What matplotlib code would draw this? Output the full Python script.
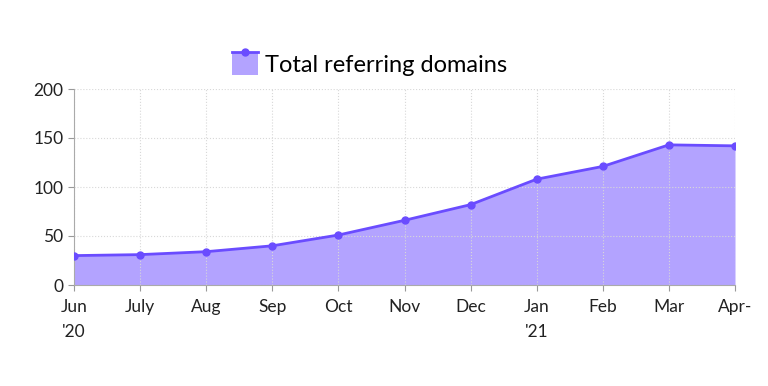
import matplotlib
matplotlib.use("Agg")
import matplotlib.pyplot as plt
from matplotlib.patches import Rectangle
from matplotlib.lines import Line2D
from matplotlib.legend_handler import HandlerBase

months = ["Jun\n'20", "July", "Aug", "Sep", "Oct", "Nov", "Dec", "Jan\n'21", "Feb", "Mar", "Apr-"]
values = [30, 31, 34, 40, 51, 66, 82, 108, 121, 143, 142]
yticks = [0, 50, 100, 150, 200]

plt.rcParams['font.family'] = ['Lato', 'DejaVu Sans']

line_c = "#6a4cff"
fill_c = "#b3a3ff"


class AreaHandler(HandlerBase):
    def create_artists(self, legend, orig_handle, xdescent, ydescent, width, height, fontsize, trans):
        r = Rectangle((-xdescent, -ydescent), width, height, facecolor=fill_c, edgecolor="none", transform=trans)
        top = -ydescent + height
        l = Line2D([-xdescent, -xdescent + width], [top, top], color=line_c, lw=2, transform=trans)
        m = Line2D([-xdescent + width / 2], [top], color=line_c, marker="o", ms=5, transform=trans)
        return [r, l, m]


fig = plt.figure(figsize=(7.68, 3.86), dpi=100)
ax = fig.add_axes([74/768, 1-285/386, (735-74)/768, (285-89)/386])
x = list(range(len(values)))
ax.fill_between(x, values, 0, color=fill_c, lw=0, zorder=1)
ax.grid(True, color="#d8d8d8", ls=":", lw=0.8, zorder=2)
ax.set_axisbelow(False)
ax.plot(x, values, color=line_c, lw=2, marker="o", ms=5, zorder=4)
ax.set_xlim(0, len(values)-1)
ax.set_ylim(0, 200)
ax.set_yticks(yticks)
ax.set_xticks(x)
ax.set_xticklabels(months, fontsize=12.5, color="#222222", linespacing=1.7, ha="center", va="top")
ax.tick_params(axis="y", labelsize=12.5, labelcolor="#222222", color="#999999", length=4)
ax.tick_params(axis="x", color="#999999", length=4, pad=6)
for s in ["top", "right"]:
    ax.spines[s].set_visible(False)
for s in ["left", "bottom"]:
    ax.spines[s].set_color("#aaaaaa")
    ax.spines[s].set_zorder(3)
for gl in ax.get_xgridlines() + ax.get_ygridlines():
    gl.set_zorder(2)

proxy = Rectangle((0, 0), 1, 1)
fig.legend([proxy], ["Total referring domains"], handler_map={Rectangle: AreaHandler()},
           loc="center", bbox_to_anchor=(370/768, 1-64/386), frameon=False,
           fontsize=17, handlelength=1.1, handleheight=1.1, handletextpad=0.3)
fig.savefig("out.png", dpi=100)
